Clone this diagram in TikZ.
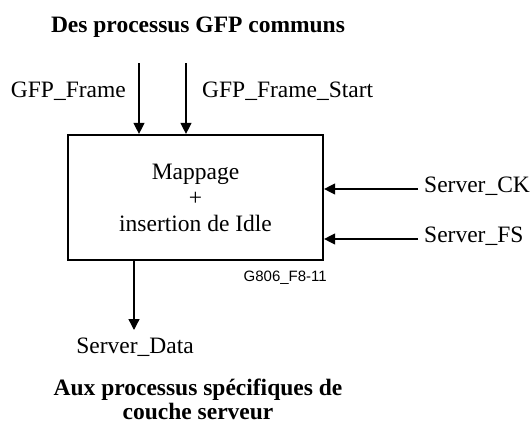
\documentclass[tikz,border=0pt]{standalone}
\usepackage{fontspec}
\setmainfont{Liberation Serif}
\newfontfamily\labelsans{Liberation Sans}
\usetikzlibrary{arrows.meta}
\tikzset{
  txt/.style={inner sep=0pt, font=\fontsize{23.5}{26}\selectfont},
  ttl/.style={inner sep=0pt, font=\fontsize{23.5}{26}\selectfont\bfseries},
  arr/.style={line width=1.3pt, -{Triangle[length=11pt,width=11pt]}},
  blk/.style={draw, line width=2.2pt, minimum width=255pt, minimum height=125pt, inner sep=0pt, align=center, font=\fontsize{23.5}{26}\selectfont},
}
\begin{document}
\begin{tikzpicture}[x=1pt,y=-1pt]
\path[use as bounding box] (0,0) rectangle (531,423);
% title
\node[ttl, anchor=base] (top) at (198,32) {Des processus GFP communs};
% block
\node[blk] (box) at (195.5,197.5) {Mappage\\+\\insertion de Idle};
% inputs from top
\coordinate (f1) at (139,63);
\coordinate (f2) at (186,63);
\draw[arr] (f1) -- (f1 |- box.north);
\draw[arr] (f2) -- (f2 |- box.north);
\node[txt, anchor=base east] (lf1) at (126,97) {GFP\_Frame};
\node[txt, anchor=base west] (lf2) at (202,97) {GFP\_Frame\_Start};
% inputs from right
\coordinate (ck) at (418,189);
\coordinate (fs) at (418,239);
\draw[arr] (ck) -- (ck -| box.east);
\draw[arr] (fs) -- (fs -| box.east);
\node[txt, anchor=west] (lck) at (424,186) {Server\_CK};
\node[txt, anchor=west] (lfs) at (424,236) {Server\_FS};
% output
\coordinate (dtop) at (134,260);
\coordinate (dend) at (134,330);
\draw[arr] (dtop |- box.south) -- (dend);
\node[txt, anchor=base] (ldata) at (135,353) {Server\_Data};
% figure id
\node[inner sep=0pt, anchor=base east, font=\labelsans\fontsize{15}{18}\selectfont] (fid) at (327,281) {G806\_F8-11};
% bottom title
\node[ttl, anchor=base] (bot1) at (198,395) {Aux processus spécifiques de};
\node[ttl, anchor=base] (bot2) at (198,419) {couche serveur};
\end{tikzpicture}
\end{document}
